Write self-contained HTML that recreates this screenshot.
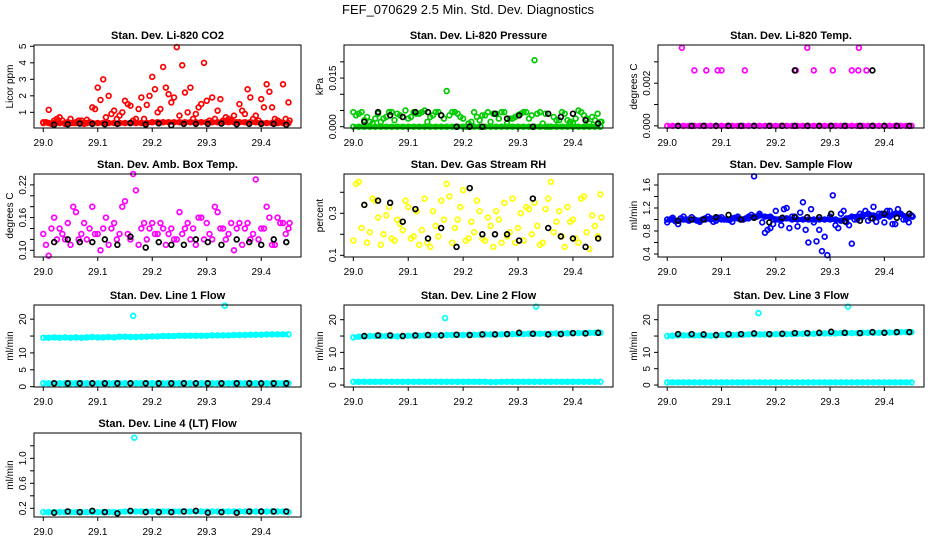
<!DOCTYPE html>
<html><head><meta charset="utf-8"><style>
body{margin:0;background:#fff;}
svg{display:block;font-family:"Liberation Sans",Arial,sans-serif;}
</style></head><body>
<svg id="c" width="936" height="540" viewBox="0 0 936 540">
<rect width="936" height="540" fill="#fff"/>
<text x="468" y="14" text-anchor="middle" font-size="13">FEF_070629  2.5 Min. Std. Dev. Diagnostics</text>
</svg>
<script>
// shared time categories
const xs = [29.00,29.01,29.02,29.03,29.04,29.05,29.06,29.07,29.08,29.09,29.10,29.11,29.12,29.13,29.14,29.15,29.16,29.17,29.18,29.19,29.20,29.21,29.22,29.23,29.24,29.25,29.26,29.27,29.28,29.29,29.30,29.31,29.32,29.33,29.34,29.35,29.36,29.37,29.38,29.39,29.40,29.41,29.42,29.43,29.44,29.45];
const xs2 = [29.005,29.015,29.025,29.035,29.045,29.055,29.065,29.075,29.085,29.095,29.105,29.115,29.125,29.135,29.145,29.155,29.165,29.175,29.185,29.195,29.205,29.215,29.225,29.235,29.245,29.255,29.265,29.275,29.285,29.295,29.305,29.315,29.325,29.335,29.345,29.355,29.365,29.375,29.385,29.395,29.405,29.415,29.425,29.435,29.445,29.452];
const xb = [29.02,29.045,29.067,29.09,29.113,29.136,29.16,29.188,29.212,29.235,29.258,29.28,29.302,29.327,29.355,29.378,29.4,29.423,29.446];
const xTicks = [29.0,29.1,29.2,29.3,29.4];
const xTickLabels = ["29.0","29.1","29.2","29.3","29.4"];

// CO2
const co2A = [.4,1.15,.5,.7,.3,.6,.4,.5,.55,1.3,2.5,3.0,2.0,1.1,.8,1.7,1.4,.6,1.9,1.45,3.15,1.0,3.75,2.1,1.9,.8,2.2,2.5,.9,1.5,1.7,1.9,1.1,.5,.6,.8,1.5,.9,1.9,.8,1.8,2.7,1.3,.5,2.7,1.6];
const co2B = [.4,.3,.6,.5,.4,.35,.5,.3,.4,1.2,1.75,.7,.9,.6,1.0,1.5,.5,1.2,.6,2.0,2.4,1.2,2.5,1.6,4.95,3.85,1.0,.6,1.3,4.0,.5,.6,1.8,.7,.5,.4,1.1,2.4,.6,.5,1.3,2.25,.6,.4,.6,.5];
const co2Band = [.35,.35,.35,.35,.35,.35,.35,.35,.35,.35,.35,.35,.35,.35,.35,.35,.35,.35,.35,.35,.4,.4,.4,.4,.4,.4,.4,.4,.4,.4,.4,.4,.4,.4,.4,.4,.4,.4,.4,.4,.35,.35,.35,.35,.35,.35];
const co2Blk = [.25,.28,.32,.3,.28,.3,.35,.26,.33,.22,.3,.3,.3,.32,.28,.3,.3,.3,.25];
// Pressure
const prA = [.0045,.004,.002,.0015,.0025,.0015,.003,.0045,.004,.003,.0025,.0045,.004,.005,.003,.0045,.0035,.011,.0045,.004,.0025,.001,.0045,.002,.0035,.0015,.004,.0045,.001,.0025,.0035,.0045,.0025,.0205,.0045,.004,0,.002,.0045,.002,.001,.005,.0035,.001,.002,.0015];
const prB = [.0035,.0045,.003,.001,.004,.0025,.0045,.002,.0035,.005,.003,.004,.0045,.0015,.0035,.0045,.0025,.0035,.0045,.003,0,.0015,.003,.0035,.0045,.004,.0025,.0045,.0025,.003,.004,.0045,.0035,.004,.001,0,.003,.002,.004,.0015,.0025,.0045,.0025,.003,.004,.0015];
const prBand = [0,0,0,0,0,0,0,0,0,0,0,0,0,0,0,0,0,0,0,0,0,0,0,0,0,0,0,0,0,0,0,0,0,0,0,0,0,0,0,0,0,0,0,0,0,0];
const prBlk = [.0015,.0045,.0035,.003,.0045,.0045,.0035,0,0,0,.004,.0025,.0035,0,.004,.003,.004,.002,.001];
// Li-820 temp
const ltOutX = [29.027,29.258,29.353,29.05,29.072,29.093,29.1,29.143,29.237,29.27,29.305,29.34,29.352,29.367];
const ltOutY = [.00366,.00366,.00366,.0026,.0026,.0026,.0026,.0026,.0026,.0026,.0026,.0026,.0026,.0026];
const ltBlk = [0,0,0,0,0,0,0,0,0,0,0,0,0,0,0,0,0,0,0];
const ltBlkOutX = [29.235,29.378];
const ltBlkOutY = [.0026,.0026];
// Amb box temp
const abA = [.13,.09,.16,.14,.12,.11,.17,.13,.12,.18,.13,.14,.11,.15,.13,.19,.12,.21,.14,.12,.15,.13,.14,.13,.12,.17,.14,.12,.11,.16,.15,.12,.17,.14,.13,.10,.15,.14,.12,.23,.14,.18,.11,.16,.15,.14];
const abB = [.11,.14,.12,.13,.15,.18,.12,.15,.14,.13,.10,.16,.14,.12,.18,.13,.24,.11,.15,.14,.13,.15,.11,.14,.12,.13,.15,.14,.16,.12,.13,.18,.14,.12,.15,.14,.11,.15,.13,.12,.14,.16,.11,.15,.13,.15];
const abBlk = [.115,.12,.115,.115,.12,.11,.125,.105,.115,.11,.11,.12,.115,.11,.12,.115,.11,.12,.115];
// RH
const rhA = [.17,.45,.34,.21,.36,.15,.29,.18,.27,.22,.33,.19,.15,.37,.14,.24,.36,.44,.16,.27,.41,.18,.21,.31,.17,.24,.31,.16,.19,.37,.23,.17,.32,.35,.15,.32,.45,.26,.19,.33,.27,.16,.38,.13,.24,.39];
const rhB = [.44,.23,.16,.37,.28,.20,.33,.17,.25,.36,.18,.31,.22,.16,.31,.19,.27,.38,.23,.33,.17,.26,.36,.18,.28,.14,.27,.35,.21,.16,.30,.33,.20,.24,.16,.37,.21,.31,.14,.26,.18,.37,.21,.29,.19,.28];
const rhBlk = [.34,.36,.35,.26,.32,.18,.23,.14,.42,.20,.20,.20,.17,.37,.23,.19,.18,.14,.18];
// Sample flow
const sfA = [.95,1.03,.92,1.05,.98,1.0,.96,1.02,1.0,.98,1.04,1.0,.96,1.05,1.0,1.02,1.75,1.1,.77,.85,1.15,.9,1.2,1.05,.88,1.3,.6,.95,.82,.7,1.05,.9,1.1,.95,.58,1.0,1.05,.98,1.22,1.1,.95,1.15,.92,1.1,1.0,1.05];
const sfB = [1.0,.97,1.02,1.0,1.04,.98,1.0,1.05,.96,1.03,1.0,.99,1.03,1.0,1.02,1.08,1.05,.95,.82,.92,1.0,1.18,.85,1.05,1.12,.82,1.18,.62,.45,.38,1.42,.85,1.15,.9,1.0,1.1,1.15,1.02,.96,1.1,1.15,.92,1.18,1.0,.95,1.05];
const sfBand = [1.0,1.0,.98,1.0,1.0,1.0,.98,1.0,1.02,1.02,1.0,1.0,1.02,1.02,1.0,1.05,1.05,1.07,1.05,1.05,1.0,1.0,1.02,1.0,1.0,1.0,1.0,1.0,1.0,1.0,1.0,1.0,.98,1.02,1.05,1.05,1.07,1.1,1.07,1.05,1.08,1.05,1.1,1.1,1.05,1.07];
const sfBlk = [.98,1.0,1.0,1.04,1.08,1.0,1.03,.95,1.03,1.04,1.04,1.04,1.1,.97,.98,1.02,1.1,1.03,1.1];
// Line flows
const l1Up = [14.5,14.5,14.6,14.5,14.6,14.5,14.6,14.5,14.6,14.7,14.6,14.6,14.7,14.6,14.8,14.8,14.7,14.7,14.8,14.8,14.9,14.9,15.0,15.0,15.0,15.1,15.1,15.1,15.1,15.1,15.1,15.2,15.2,15.2,15.2,15.3,15.3,15.3,15.4,15.4,15.4,15.5,15.5,15.5,15.5,15.5];
const l1Low = [1.0,1.0,1.0,1.0,1.0,1.0,1.0,1.0,1.0,1.0,1.0,1.0,1.0,1.0,1.0,1.0,1.0,1.0,1.0,1.0,1.0,1.0,1.0,1.0,1.0,1.0,1.0,1.0,1.0,1.0,1.0,1.0,1.0,1.0,1.0,1.0,1.0,1.0,1.0,1.0,1.0,1.0,1.0,1.0,1.0,1.0];
const l1Blk = [1.0,1.0,1.0,1.0,1.0,1.0,1.0,1.0,1.0,1.0,1.0,1.0,1.0,1.0,1.0,1.0,1.0,1.0,1.0];
const l1OutX = [29.165,29.333];
const l1OutY = [21.0,24.0];
const l2Up = [14.6,14.8,14.9,15.0,15.0,15.0,15.0,15.0,14.9,15.0,15.1,15.1,15.1,15.2,15.2,15.2,15.2,15.3,15.3,15.3,15.3,15.4,15.4,15.4,15.5,15.5,15.5,15.5,15.6,15.6,15.6,15.6,15.7,15.7,15.7,15.7,15.7,15.8,15.8,15.8,15.9,15.9,15.9,16.0,16.0,16.0];
const l2Low = [1.0,1.0,1.0,1.0,1.0,1.0,1.0,1.0,1.0,1.0,1.0,1.0,1.0,1.0,1.0,1.0,1.0,1.0,1.0,1.0,1.0,1.0,1.0,1.0,1.0,0.9,0.9,1.0,1.0,1.0,1.0,1.0,1.0,1.0,1.0,1.0,1.0,1.0,1.0,1.0,1.0,1.0,1.0,1.0,1.0,1.0];
const l2Blk = [15.0,15.2,15.2,15.0,15.2,15.3,15.2,15.4,15.3,15.5,15.5,15.6,16.0,15.7,15.5,15.6,15.9,15.8,16.0];
const l2OutX = [29.167,29.333];
const l2OutY = [20.5,24.0];
const l3Up = [15.0,15.1,15.2,15.2,15.2,15.2,15.2,15.2,15.1,15.2,15.3,15.3,15.3,15.4,15.4,15.5,15.5,15.5,15.5,15.5,15.6,15.6,15.6,15.6,15.7,15.7,15.7,15.7,15.8,15.8,15.8,15.8,15.9,15.9,15.9,15.9,16.0,16.0,16.0,16.0,16.1,16.1,16.1,16.2,16.2,16.2];
const l3Low = [0.8,0.8,0.8,0.8,0.8,0.8,0.8,0.8,0.8,0.8,0.8,0.8,0.8,0.8,0.8,0.8,0.8,0.8,0.8,0.8,0.8,0.8,0.8,0.8,0.8,0.8,0.8,0.8,0.8,0.8,0.8,0.8,0.8,0.8,0.8,0.8,0.8,0.8,0.8,0.8,0.8,0.8,0.8,0.8,0.8,0.8];
const l3Blk = [15.6,15.6,15.5,15.3,15.6,15.6,15.8,15.6,15.7,15.9,15.9,16.0,16.3,16.0,15.9,16.2,16.0,16.2,16.2];
const l3OutX = [29.168,29.333];
const l3OutY = [22.0,24.0];
const l4Band = [.14,.14,.14,.14,.14,.14,.14,.14,.14,.14,.14,.14,.14,.14,.14,.15,.15,.15,.15,.15,.15,.15,.15,.15,.15,.15,.15,.15,.15,.15,.15,.15,.15,.15,.15,.15,.15,.15,.15,.15,.15,.15,.15,.15,.15,.14];
const l4Blk = [.13,.15,.14,.16,.14,.12,.16,.14,.14,.14,.15,.16,.13,.14,.13,.15,.15,.15,.15];
const l4OutX = [29.167];
const l4OutY = [1.33];

const svg = document.getElementById('c');
const NS = 'http://www.w3.org/2000/svg';
function mk(tag, attrs, parent){const e=document.createElementNS(NS,tag);for(const k in attrs)e.setAttribute(k,attrs[k]);(parent||svg).appendChild(e);return e;}
const colL=[34,344,658], colR=[301,613,924], rowT=[45,174,305,433], rowB=[128,257,387,517];
const XMIN=28.983, XMAX=29.473;

function panel(o){
  const L=colL[o.c],R=colR[o.c],T=rowT[o.r],B=rowB[o.r];
  const g=mk('g',{});
  
  
  const sx=v=>L+(v-XMIN)/(XMAX-XMIN)*(R-L);
  const sy=v=>B-(v-o.ymin)/(o.ymax-o.ymin)*(B-T);
  const t=mk('text',{x:(L+R)/2,y:T-6,'text-anchor':'middle','font-size':11,'font-weight':'bold'},g);
  t.textContent=o.title;
  
  
  const marks=mk('g',{fill:'none','stroke-width':1.7},g);
  
  
  (o.bands||[]).forEach(b=>{
    const p=mk('polyline',{points:xs.map((x,i)=>sx(x)+','+sy(b[i])).join(' '),stroke:o.col,'stroke-width':5,fill:'none','stroke-linejoin':'round'},marks);
    
    
  });
  function dots(X,Y,col){X.forEach((x,i)=>{const c=mk('circle',{cx:sx(x),cy:sy(Y[i]),r:2.4,stroke:col},marks);
    
    });}
  (o.bands||[]).forEach(b=>dots(xs,b,o.col));
  if(o.a)dots(xs,o.a,o.col);
  if(o.b)dots(xs2,o.b,o.col);
  if(o.ox)dots(o.ox,o.oy,o.col);
  if(o.blk)dots(xb,o.blk,'#000');
  if(o.bx)dots(o.bx,o.by,'#000');
  const box=mk('rect',{x:L,y:T,width:R-L,height:B-T,fill:'none',stroke:'#000','stroke-width':1},g);
  
  
  const xa=mk('g',{},g);
  
  
  xTicks.forEach((v,i)=>{mk('line',{x1:sx(v),x2:sx(v),y1:B,y2:B+4,stroke:'#000'},xa);
    const tl=mk('text',{x:sx(v),y:B+18,'text-anchor':'middle','font-size':10},xa);tl.textContent=xTickLabels[i];});
  const ya=mk('g',{},g);
  
  
  o.yt.forEach((v,i)=>{mk('line',{x1:L-4,x2:L,y1:sy(v),y2:sy(v),stroke:'#000'},ya);
    if(o.yl[i]){const tl=mk('text',{x:L-8,y:sy(v),'text-anchor':'middle','font-size':10,transform:'rotate(-90 '+(L-8)+' '+sy(v)+')'},ya);tl.textContent=o.yl[i];}});
  const yl=mk('text',{x:L-21,y:(T+B)/2,'text-anchor':'middle','font-size':10,transform:'rotate(-90 '+(L-21)+' '+(T+B)/2+')'},g);
  yl.textContent=o.ylab;
  
  
}

panel({name:'panel-co2',c:0,r:0,title:'Stan. Dev. Li-820 CO2',ylab:'Licor ppm',col:'#ff0000',ymin:0.05,ymax:5.08,yt:[1,2,3,4,5],yl:['1','2','3','4','5'],bands:[co2Band],a:co2A,b:co2B,blk:co2Blk});
panel({name:'panel-pressure',c:1,r:0,title:'Stan. Dev. Li-820 Pressure',ylab:'kPa',col:'#00cc00',ymin:-0.0004,ymax:0.0252,yt:[0,.005,.01,.015,.02],yl:['0.000','','','0.015',''],bands:[prBand],a:prA,b:prB,blk:prBlk});
panel({name:'panel-li820-temp',c:2,r:0,title:'Stan. Dev. Li-820 Temp.',ylab:'degrees C',col:'#ff00ff',ymin:-0.0001,ymax:0.00379,yt:[0,.001,.002,.003],yl:['0.000','','0.002',''],bands:[prBand],ox:ltOutX,oy:ltOutY,blk:ltBlk,bx:ltBlkOutX,by:ltBlkOutY});
panel({name:'panel-amb-box-temp',c:0,r:1,title:'Stan. Dev. Amb. Box Temp.',ylab:'degrees C',col:'#ff00ff',ymin:0.0877,ymax:0.240,yt:[.10,.12,.14,.16,.18,.20,.22],yl:['0.10','','','0.16','','','0.22'],a:abA,b:abB,blk:abBlk});
panel({name:'panel-gas-stream-rh',c:1,r:1,title:'Stan. Dev. Gas Stream RH',ylab:'percent',col:'#ffff00',ymin:0.092,ymax:0.487,yt:[.1,.2,.3,.4],yl:['0.1','','0.3',''],a:rhA,b:rhB,blk:rhBlk});
panel({name:'panel-sample-flow',c:2,r:1,title:'Stan. Dev. Sample Flow',ylab:'ml/min',col:'#0000ff',ymin:0.348,ymax:1.791,yt:[.4,.6,.8,1.0,1.2,1.4,1.6],yl:['0.4','','0.8','','1.2','','1.6'],bands:[sfBand],a:sfA,b:sfB,blk:sfBlk});
panel({name:'panel-line1-flow',c:0,r:2,title:'Stan. Dev. Line 1 Flow',ylab:'ml/min',col:'#00ffff',ymin:-0.1,ymax:24.2,yt:[0,5,10,15,20],yl:['0','5','10','','20'],bands:[l1Up,l1Low],ox:l1OutX,oy:l1OutY,blk:l1Blk});
panel({name:'panel-line2-flow',c:1,r:2,title:'Stan. Dev. Line 2 Flow',ylab:'ml/min',col:'#00ffff',ymin:-0.6,ymax:24.5,yt:[0,5,10,15,20],yl:['0','5','10','','20'],bands:[l2Up,l2Low],ox:l2OutX,oy:l2OutY,blk:l2Blk});
panel({name:'panel-line3-flow',c:2,r:2,title:'Stan. Dev. Line 3 Flow',ylab:'ml/min',col:'#00ffff',ymin:-0.6,ymax:24.5,yt:[0,5,10,15,20],yl:['0','5','10','','20'],bands:[l3Up,l3Low],ox:l3OutX,oy:l3OutY,blk:l3Blk});
panel({name:'panel-line4-flow',c:0,r:3,title:'Stan. Dev. Line 4 (LT) Flow',ylab:'ml/min',col:'#00ffff',ymin:0.061,ymax:1.405,yt:[.2,.4,.6,.8,1.0,1.2],yl:['0.2','','0.6','','1.0',''],bands:[l4Band],ox:l4OutX,oy:l4OutY,blk:l4Blk});
</script>
</body></html>
